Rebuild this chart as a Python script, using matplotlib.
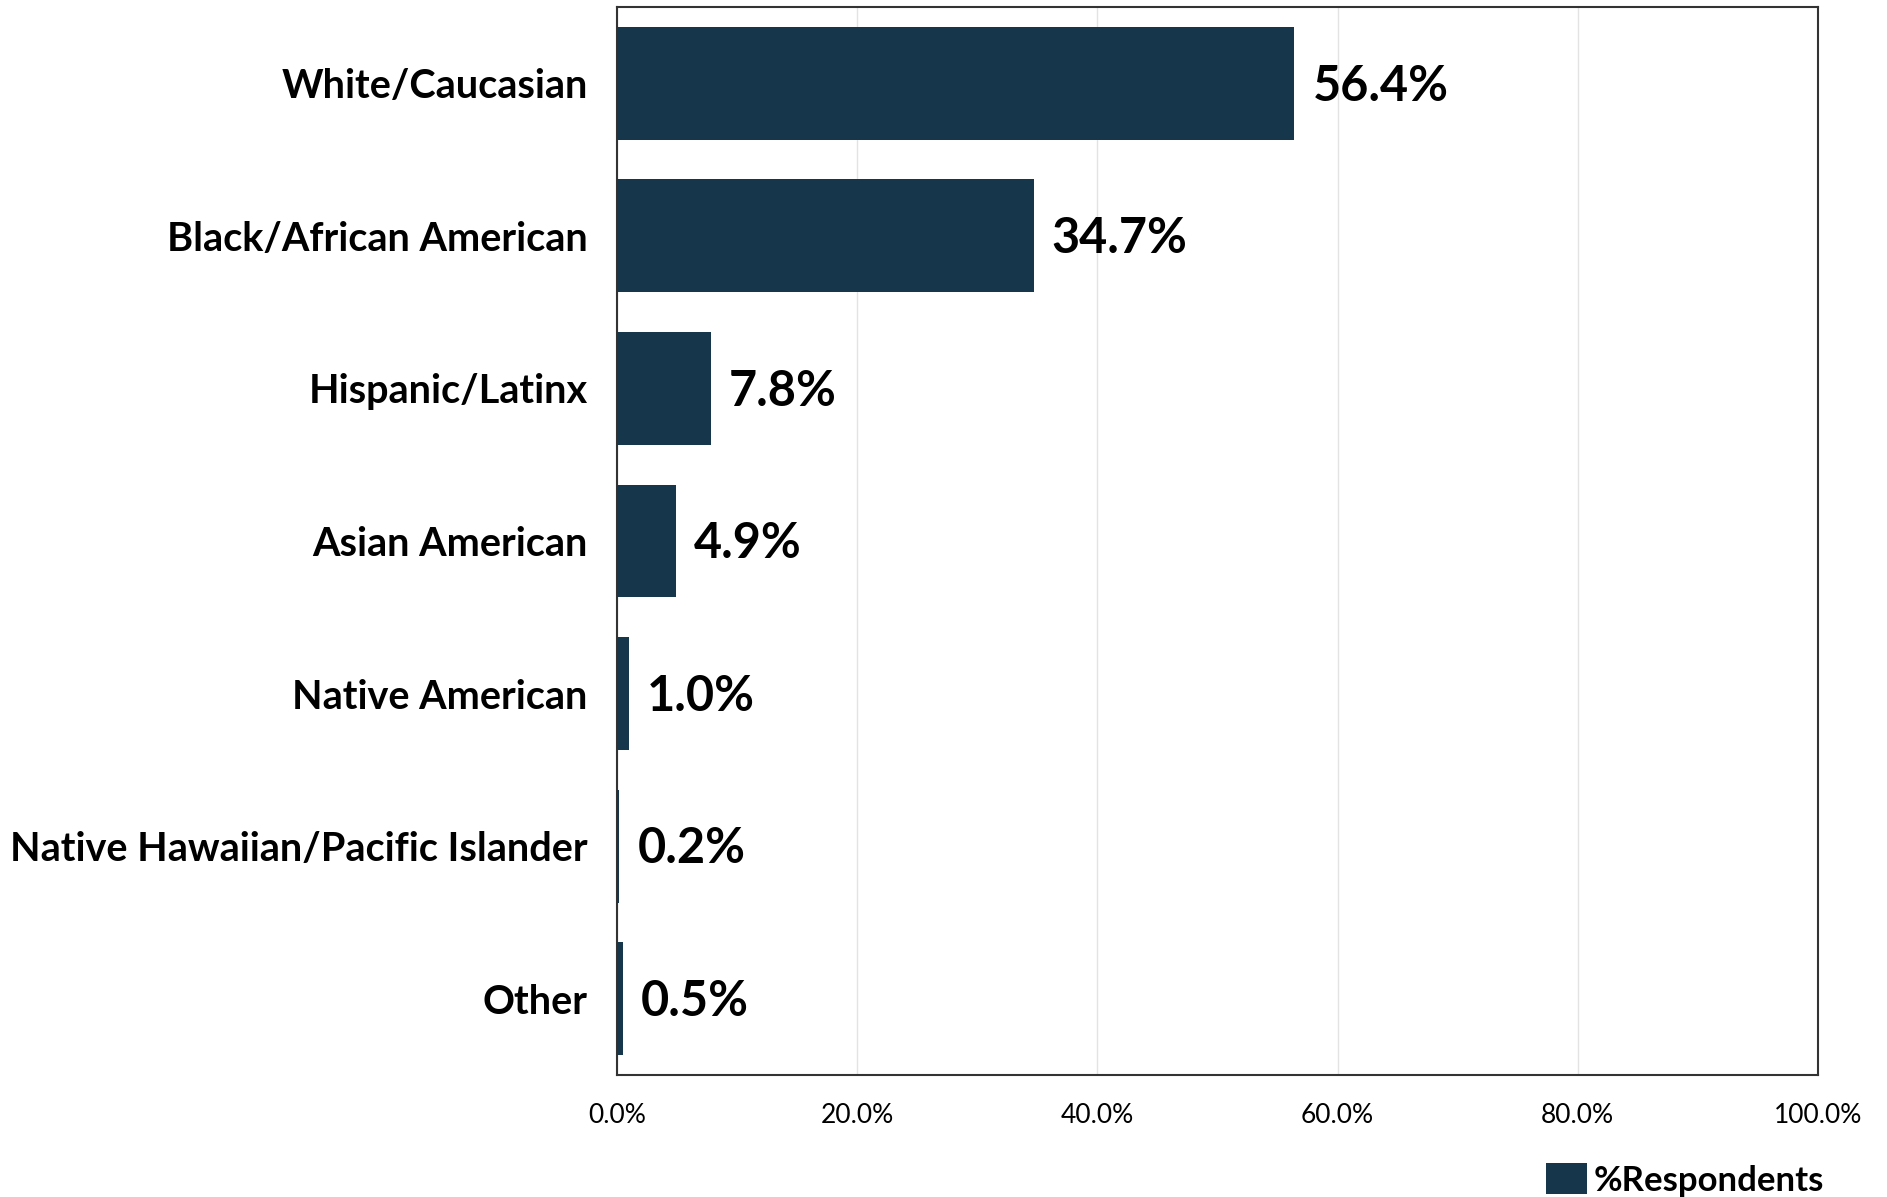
import matplotlib

matplotlib.use('Agg')  # backend to non-interactive
import matplotlib.pyplot as plt
from matplotlib.ticker import FuncFormatter

plt.rcParams['font.family'] = ['Lato', 'DejaVu Sans']

# Respondents by race / ethnicity
categories = [
    'White/Caucasian',
    'Black/African American',
    'Hispanic/Latinx',
    'Asian American',
    'Native American',
    'Native Hawaiian/Pacific Islander',
    'Other',
]
percents = [56.4, 34.7, 7.8, 4.9, 1.0, 0.2, 0.5]
x_ticks = [0, 20, 40, 60, 80, 100]
series_name = '%Respondents'

bar_color = '#15364b'

fig = plt.figure(figsize=(18.87, 11.97), dpi=100)
ax = fig.add_axes([617 / 1887, 1 - 1075 / 1197, (1818 - 617) / 1887, (1075 - 7) / 1197])

y = list(range(len(categories)))
bars = ax.barh(y, percents, height=0.74, color=bar_color, label=series_name, zorder=3)

ax.set_ylim(len(categories) - 0.5, -0.5)
ax.set_xlim(0, 100)
ax.set_yticks(y)
ax.set_yticklabels(categories, fontsize=28.5, fontweight='bold')
ax.set_xticks(x_ticks)
ax.xaxis.set_major_formatter(FuncFormatter(lambda v, _: f'{v:.1f}%'))
ax.tick_params(axis='x', length=0, labelsize=19, pad=20)
ax.tick_params(axis='y', length=0, pad=21)

ax.grid(axis='x', color='#e3e3e3', linewidth=1, zorder=0)
for side in ['left', 'right', 'top', 'bottom']:
    ax.spines[side].set_color('#333333')
    ax.spines[side].set_linewidth(1.5)

# value labels just past the end of each bar
for bar, val in zip(bars, percents):
    ax.annotate(f'{val:.1f}%', (bar.get_width(), bar.get_y() + bar.get_height() / 2),
                xytext=(13, -2), textcoords='offset points', va='center', ha='left',
                fontsize=35, fontweight='bold')

fig.legend(handles=[bars], labels=[series_name], loc='center', bbox_to_anchor=(1685 / 1887, 1 - 1180 / 1197),
           frameon=False, prop={'weight': 'bold', 'size': 25},
           handlelength=1.2, handleheight=1.0, handletextpad=0.2)

fig.savefig('out.png', dpi=100)
plt.close(fig)
